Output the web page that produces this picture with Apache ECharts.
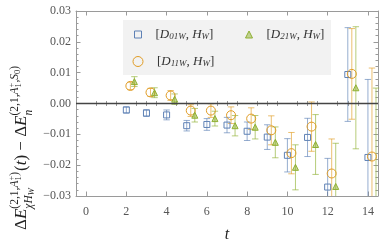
<!DOCTYPE html>
<html><head><meta charset="utf-8">
<script src="https://cdn.jsdelivr.net/npm/echarts@6/dist/echarts.min.js"></script>
<style>html,body{margin:0;padding:0;background:#fff}#c{width:390px;height:248px}</style>
</head><body><div id="c"></div>
<script>
// ---- data ----
const tValues = [2, 3, 4, 5, 6, 7, 8, 9, 10, 11, 12, 13, 14];
const d01Values = [-0.0021, -0.0031, -0.0037, -0.0072, -0.0068, -0.0070, -0.0090, -0.0109, -0.0168, -0.0110, -0.0271, 0.0094, -0.0175];
const d01Errors = [0.0010, 0.0011, 0.0016, 0.0017, 0.0019, 0.0025, 0.0030, 0.0040, 0.0054, 0.0062, 0.0093, 0.0152, 0.0253];
const d11Values = [0.0057, 0.0036, 0.0026, -0.0023, -0.0023, -0.0038, -0.0049, -0.0087, -0.0161, -0.0075, -0.0227, 0.0096, -0.0172];
const d11Errors = [0.0012, 0.0013, 0.0016, 0.0019, 0.0022, 0.0027, 0.0035, 0.0047, 0.0067, 0.0080, 0.0112, 0.0147, 0.0287];
const d21Values = [0.0071, 0.0035, 0.0014, -0.0038, -0.0049, -0.0072, -0.0077, -0.0126, -0.0207, -0.0133, -0.0269, 0.0051, -0.0340];
const d21Errors = [0.0016, 0.0016, 0.0017, 0.0022, 0.0024, 0.0033, 0.0038, 0.0050, 0.0073, 0.0097, 0.0140, 0.0198, 0.0390];
const xTickLabels = [0, 2, 4, 6, 8, 10, 12, 14];
const yTickLabels = [-0.03, -0.02, -0.01, 0.00, 0.01, 0.02, 0.03];

// ---- styling ----
const SERIF = 'Liberation Serif';
const X_MIN = -0.5, X_MAX = 14.5, Y_MIN = -0.03, Y_MAX = 0.03;
const seriesDefs = [
  {name: 'D01W', sub: '01W', vals: d01Values, errs: d01Errors, color: '#5E81B5', dx: 0.0, symbol: 'rect', size: 6, fill: 'rgba(255,255,255,0)'},
  {name: 'D11W', sub: '11W', vals: d11Values, errs: d11Errors, color: '#E19C24', dx: 0.2, symbol: 'circle', size: 9, fill: 'rgba(255,255,255,0)'},
  {name: 'D21W', sub: '21W', vals: d21Values, errs: d21Errors, color: '#8FB032', dx: 0.4, symbol: 'triangle', size: 6, fill: 'rgba(143,176,50,0.5)'}
];
const minorX = [];
for (let v = X_MIN; v <= X_MAX + 1e-9; v += 0.5) {
  if (!xTickLabels.some(m => Math.abs(m - v) < 1e-9)) minorX.push(v);
}

function errRender(color) {
  return function (params, api) {
    const x = api.value(0), y = api.value(1), e = api.value(2);
    const hi = Math.min(y + e, Y_MAX), lo = Math.max(y - e, Y_MIN);
    const pH = api.coord([x, hi]), pL = api.coord([x, lo]);
    const st = {stroke: color, lineWidth: 1, opacity: 0.65};
    const ch = [{type: 'line', shape: {x1: pH[0], y1: pH[1], x2: pL[0], y2: pL[1]}, style: st}];
    const cw = 3.2;
    if (y + e <= Y_MAX) ch.push({type: 'line', shape: {x1: pH[0] - cw, y1: pH[1], x2: pH[0] + cw, y2: pH[1]}, style: st});
    if (y - e >= Y_MIN) ch.push({type: 'line', shape: {x1: pL[0] - cw, y1: pL[1], x2: pL[0] + cw, y2: pL[1]}, style: st});
    return {type: 'group', children: ch};
  };
}

const series = [];
seriesDefs.forEach((s, k) => {
  const pts = tValues.map((t, i) => [t + s.dx, s.vals[i], s.errs[i]]);
  series.push({
    type: 'custom', name: s.name + '_err', xAxisIndex: 0, yAxisIndex: 0, z: 2,
    renderItem: errRender(s.color), data: pts, silent: true
  });
  const sc = {
    type: 'scatter', name: s.name, xAxisIndex: 0, yAxisIndex: 0, z: 3,
    symbol: s.symbol, symbolSize: s.size,
    itemStyle: {color: s.fill, borderColor: s.color, borderWidth: 1, opacity: 1},
    data: pts.map(p => [p[0], p[1]])
  };
  if (k === 0) {
    sc.markLine = {silent: true, symbol: ['none', 'none'], label: {show: false},
      lineStyle: {color: '#444', width: 1.3, type: 'solid'}, data: [{yAxis: 0}]};
  }
  series.push(sc);
});

const legendRich = {
  b: {fontFamily: SERIF, fontSize: 13, color: '#333'},
  i: {fontFamily: SERIF, fontSize: 13, fontStyle: 'italic', color: '#333'},
  s: {fontFamily: SERIF, fontSize: 9, fontStyle: 'italic', color: '#333', verticalAlign: 'bottom', lineHeight: 9, padding: [5, 0, 0, 0]}
};
function legendFor(k, left, top, iw) {
  const s = seriesDefs[k];
  return {
    left: left, top: top, padding: 0, itemWidth: iw, itemHeight: iw,
    selectedMode: false,
    data: [{name: s.name, icon: s.symbol, itemStyle: {color: s.fill, borderColor: s.color, borderWidth: 1}}],
    formatter: () => '{b|[}{i|D}{s|' + s.sub + '}{b|, }{i|H}{s|W}{b|]}',
    textStyle: {rich: legendRich, padding: [0, 0, 0, 9]}
  };
}

// y-axis title built from text pieces
const cv = document.createElement('canvas').getContext('2d');
function tw(t, size, it) { cv.font = (it ? 'italic ' : '') + size + 'px "' + SERIF + '"'; return cv.measureText(t).width; }
const titleChildren = [];
function seq(items, x0, dy) {
  let x = x0;
  items.forEach(it => {
    if (it.stack) {
      let mx = x;
      it.stack.forEach(p => {
        titleChildren.push({type: 'text', x: x, y: dy + p[3], style: {text: p[0], fontSize: p[1], fontStyle: p[2] ? 'italic' : 'normal', fontFamily: SERIF, fill: '#222', verticalAlign: 'middle', align: 'left'}});
        mx = Math.max(mx, x + tw(p[0], p[1], p[2]));
      });
      x = mx;
    } else {
      titleChildren.push({type: 'text', x: x, y: dy + (it[3] || 0), style: {text: it[0], fontSize: it[1], fontStyle: it[2] ? 'italic' : 'normal', fontFamily: SERIF, fill: '#222', verticalAlign: 'middle', align: 'left'}});
      x += tw(it[0], it[1], it[2]);
    }
  });
  return x;
}
const M = 17, S = 11.5, SS = 8.5;
let cx = seq([['Δ', M, false], ['E', M, true]], 0, 0);
let e1 = seq([['(2,1,', S, false], ['A', S, true], {stack: [['+', SS, false, -3.5], ['1', SS, false, 3.5]]}, [')', S, false]], cx, -7);
let e2 = seq([['χ', S, true], ['H', S, true], ['W', SS, true, 2.5]], cx, 7);
cx = Math.max(e1, e2) + 1;
cx = seq([['(', M, false], ['t', M, true], [')', M, false], [' − ', M, false], ['Δ', M, false], ['E', M, true]], cx, 0);
seq([['(2,1,', S, false], ['A', S, true], {stack: [['+', SS, false, -3.5], ['1', SS, false, 3.5]]}, [',', S, false], ['S', S, true], ['0', SS, false, 2.5], [')', S, false]], cx, -7);
seq([['n', S, true]], cx, 7);

const axisLineStyle = {color: '#9a9a9a', width: 1};
const chart = echarts.init(document.getElementById('c'), null, {renderer: 'canvas'});
chart.setOption({
  animation: false,
  backgroundColor: '#fff',
  grid: {left: 76, right: 12, top: 11, bottom: 52, containLabel: false, outerBoundsMode: 'none'},
  xAxis: [
    {type: 'value', position: 'bottom', min: X_MIN, max: X_MAX,
      name: 't', nameLocation: 'middle', nameGap: 31,
      nameTextStyle: {fontFamily: SERIF, fontStyle: 'italic', fontSize: 16, color: '#222'},
      axisLine: {show: true, onZero: false, lineStyle: axisLineStyle},
      axisTick: {show: true, inside: true, length: 4.5, customValues: xTickLabels, lineStyle: axisLineStyle},
      axisLabel: {customValues: xTickLabels, fontFamily: SERIF, fontSize: 12, color: '#555', margin: 10},
      splitLine: {show: false}},
    {type: 'value', position: 'bottom', min: X_MIN, max: X_MAX,
      axisLine: {show: false}, axisLabel: {show: false}, splitLine: {show: false},
      axisTick: {show: true, inside: true, length: 2.5, customValues: minorX, lineStyle: axisLineStyle}},
    {type: 'value', position: 'top', min: X_MIN, max: X_MAX,
      axisLine: {show: true, onZero: false, lineStyle: axisLineStyle}, axisLabel: {show: false}, splitLine: {show: false},
      axisTick: {show: true, inside: true, length: 4.5, customValues: xTickLabels, lineStyle: axisLineStyle}},
    {type: 'value', position: 'top', min: X_MIN, max: X_MAX,
      axisLine: {show: false}, axisLabel: {show: false}, splitLine: {show: false},
      axisTick: {show: true, inside: true, length: 2.5, customValues: minorX, lineStyle: axisLineStyle}}
  ],
  yAxis: [
    {type: 'value', position: 'left', min: Y_MIN, max: Y_MAX, interval: 0.01,
      axisLine: {show: true, onZero: false, lineStyle: axisLineStyle},
      axisTick: {show: true, inside: true, length: 4.5, lineStyle: axisLineStyle},
      minorTick: {show: true, splitNumber: 5, length: 2.5, lineStyle: axisLineStyle},
      axisLabel: {fontFamily: SERIF, fontSize: 12, color: '#555', margin: 5,
        formatter: v => { const r = Math.round(v * 100) / 100; return (r < 0 ? '−' : '') + Math.abs(r).toFixed(2); }},
      splitLine: {show: false}},
    {type: 'value', position: 'right', min: Y_MIN, max: Y_MAX, interval: 0.01,
      axisLine: {show: true, onZero: false, lineStyle: axisLineStyle},
      axisTick: {show: true, inside: true, length: 4.5, lineStyle: axisLineStyle},
      minorTick: {show: true, splitNumber: 5, length: 2.5, lineStyle: axisLineStyle},
      axisLabel: {show: false}, splitLine: {show: false}}
  ],
  legend: [legendFor(0, 134, 27, 7), legendFor(1, 132.5, 54, 10), legendFor(2, 245, 27, 7)],
  graphic: [
    {type: 'rect', z: 0, shape: {x: 123, y: 20, width: 208, height: 55}, style: {fill: '#f2f2f2'}},
    {type: 'group', x: 22, y: 230, rotation: Math.PI / 2, children: titleChildren}
  ],
  series: series
});
</script></body></html>
